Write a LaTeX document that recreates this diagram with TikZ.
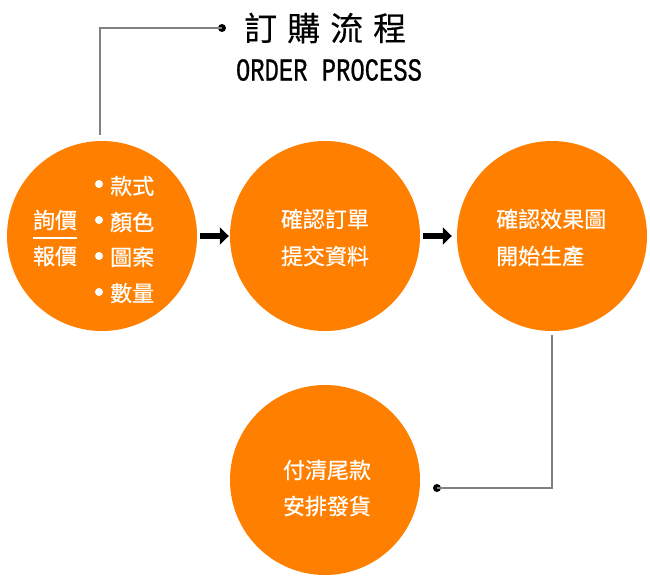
\documentclass[tikz,border=0pt]{standalone}
\usepackage{fontspec}
\usepackage{graphicx}
\setmainfont{Liberation Sans}
\newfontfamily\cjk[FakeBold=0.6]{Noto Sans CJK TC}
\newfontfamily\cjkl[FakeBold=0.4]{Noto Sans CJK TC}
\newfontfamily\monof[FakeBold=0.8]{Liberation Mono}
\usetikzlibrary{arrows.meta,calc}
\definecolor{orng}{HTML}{FF8000}
\definecolor{lgray}{HTML}{808080}
\tikzset{
  stepcircle/.style={circle, fill=orng, minimum size=190pt, inner sep=0pt},
  wtext/.style={text=white, font=\cjk\fontsize{22}{25}\selectfont, inner sep=0pt},
  flowarrow/.style={line width=6pt, -{Triangle[length=9pt,width=17pt]}},
  leader/.style={lgray, line width=2pt},
  enddot/.style={circle, fill=black, minimum size=8pt, inner sep=0pt},
  bulletdot/.style={circle, fill=white, minimum size=8pt, inner sep=0pt},
}
\begin{document}
\begin{tikzpicture}[x=1pt,y=-1pt]
\useasboundingbox (0,0) rectangle (650,584);
\node[stepcircle] (c1) at (102,236) {};
\node[stepcircle] (c2) at (325,236) {};
\node[stepcircle] (c3) at (552,236) {};
\node[stepcircle] (c4) at (325,480) {};

% circle 1 text
\node[wtext] (q1) at (55,220) {詢價};
\node[wtext] (q2) at (55,256) {報價};
\draw[white, line width=1.5pt] (33,238) -- (77,238);
\node[bulletdot] (b1) at (99,184) {};
\node[bulletdot] (b2) at (99,220) {};
\node[bulletdot] (b3) at (99,256) {};
\node[bulletdot] (b4) at (99,292) {};
\node[wtext, anchor=west] (t1) at (110,186) {款式};
\node[wtext, anchor=west] (t2) at (110,222) {顏色};
\node[wtext, anchor=west] (t3) at (110,257) {圖案};
\node[wtext, anchor=west] (t4) at (110,293) {數量};

% circle 2 text
\node[wtext] (s1) at (325,219) {確認訂單};
\node[wtext] (s2) at (325,256) {提交資料};
% circle 3 text
\node[wtext, anchor=west] (r1) at (496,219) {確認效果圖};
\node[wtext, anchor=west] (r2) at (496,256) {開始生產};
% circle 4 text
\node[wtext] (u1) at (327,470) {付清尾款};
\node[wtext] (u2) at (327,506) {安排發貨};

% arrows
\draw[flowarrow] ([xshift=3pt]c1.east) -- ([xshift=-1pt]c2.west);
\draw[flowarrow] ([xshift=3pt]c2.east) -- ([xshift=-5pt]c3.west);

% title
\node[enddot] (d1) at (222,28) {};
\node[anchor=west, inner sep=0pt, font=\cjkl\fontsize{33}{36}\selectfont] (title) at (244,28) {訂\hspace{10pt}購\hspace{10pt}流\hspace{10pt}程};
\node[inner sep=0pt, font=\monof\fontsize{32}{34}\selectfont] (sub) at (329,70) {\scalebox{0.745}[1]{ORDER PROCESS}};
\draw[leader] ([yshift=6pt]c1.north -| 100,0) |- (d1.center);

% bottom leader
\node[enddot] (d2) at (437,488) {};
\draw[leader] ([yshift=-4pt]c3.south) |- (d2.center);
\end{tikzpicture}
\end{document}
